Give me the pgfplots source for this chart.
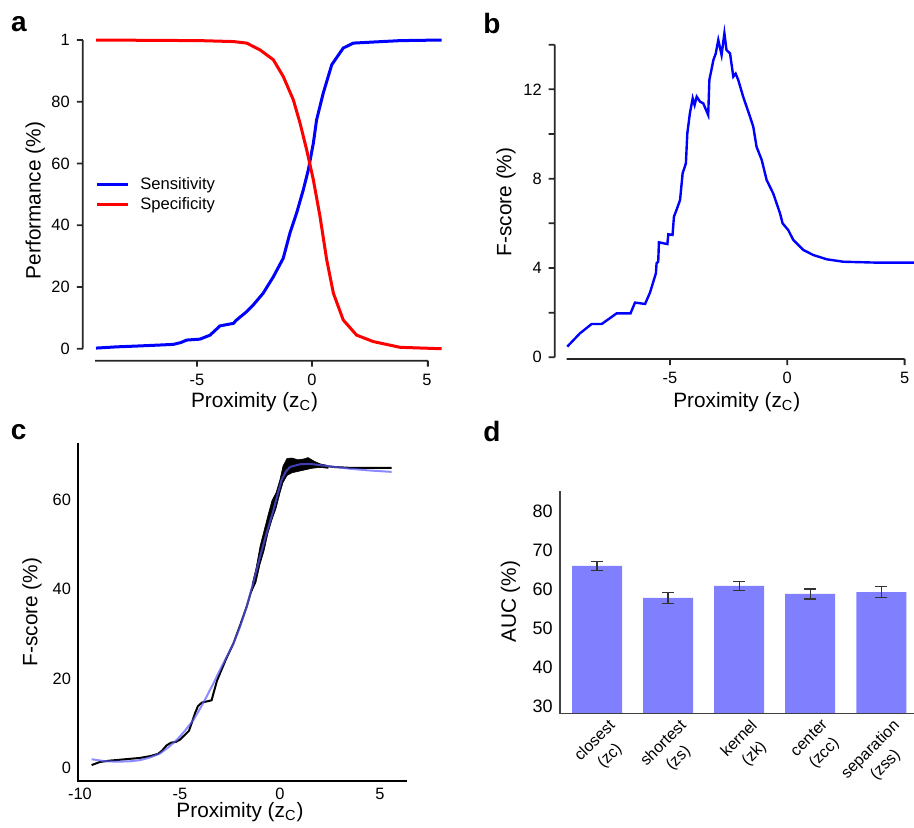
\documentclass[border=0pt]{standalone}
\usepackage{fontspec}
\setmainfont{Liberation Sans}
\usepackage{pgfplots}
\pgfplotsset{compat=1.18}
\usetikzlibrary{calc}

\begin{document}
\begin{tikzpicture}
\path[use as bounding box] (0,0) rectangle (457pt,-413.5pt);

\pgfplotsset{
  every axis/.append style={
    scale only axis, clip=false, anchor=south west,
    /pgf/number format/assume math mode=true,
    tick label style={font=\fontsize{8.2}{9}\selectfont, text=black},
    label style={font=\fontsize{10.4}{12}\selectfont},
    axis line style={draw=none},
  },
}

\node[font=\bfseries\fontsize{14}{16}\selectfont] at (9.5pt,-12pt) {a};
\node[font=\bfseries\fontsize{14}{16}\selectfont] at (246pt,-11.5pt) {b};
\node[font=\bfseries\fontsize{14}{16}\selectfont] at (9.3pt,-216pt) {c};
\node[font=\bfseries\fontsize{14}{16}\selectfont] at (246pt,-215.5pt) {d};

% a: sensitivity / specificity
\begin{axis}[
    name=A,
    at={(47.55pt,-174.35pt)}, width=173.3pt, height=154.35pt,
    xmin=-9.43, xmax=5.64, ymin=0, ymax=100,
    axis x line=bottom, axis y line=left,
    xtick={-5,0,5}, ytick={0,20,...,100}, yticklabels={0,20,40,60,80,1},
    tick align=outside, major tick length=3pt, tick style={draw=none},
    xticklabel style={yshift=-6pt}, yticklabel style={xshift=-6.15pt},
    xlabel={Proximity (z\textsubscript{C})}, ylabel={Performance (\%)},
    xlabel style={at={(axis description cs:0.46,-0.173)}, anchor=center},
    ylabel style={at={(axis description cs:-0.173,0.48)}, anchor=center},
    legend style={draw=none, fill=none, inner sep=0pt,
        at={(axis description cs:0.001,0.565)}, anchor=north west,
        font=\fontsize{8.3}{9.5}\selectfont, column sep=4.6pt,
        nodes={inner sep=0.6pt, text height=6.9pt, text depth=2pt},
        cells={anchor=west}},
    legend image code/.code={\draw[#1] (0pt,0pt) -- (15.5pt,0pt);},
]
\addplot[blue, line width=1.5pt] coordinates {
(-9.39,0.2) (-8.5,0.6) (-7.5,0.9) (-6.6,1.2) (-6.03,1.4) (-5.7,2.0) (-5.45,2.8)
(-4.87,3.1) (-4.43,4.4) (-4.0,7.4) (-3.42,8.2) (-3.28,9.3) (-2.84,12.0)
(-2.55,14.2) (-2.12,18.0) (-1.68,23.3) (-1.25,29.3) (-0.96,37.4) (-0.67,43.9)
(-0.38,51.4) (-0.16,57.9) (0.06,66.6) (0.2,74.1) (0.49,82.8) (0.86,92.0)
(1.36,97.4) (1.8,99.0) (2.8,99.4) (3.83,99.8) (5.64,100)
};
\addlegendentry{Sensitivity}
\addplot[red, line width=1.5pt] coordinates {
(-9.39,100) (-4.87,99.8) (-3.42,99.5) (-2.84,99.0) (-2.26,96.8) (-1.68,93.6)
(-1.25,88.2) (-0.81,80.6) (-0.52,73.1) (-0.23,64.4) (0.06,54.7) (0.35,42.8)
(0.64,28.8) (0.93,18.0) (1.36,9.3) (1.94,4.4) (2.67,2.3) (3.83,0.45) (5.64,0)
};
\addlegendentry{Specificity}
\end{axis}
% detached axis lines of a, with outward ticks, as one path
\coordinate (a0) at ($(A.south west)+(0,-6pt)$);
\coordinate (a1) at ($(A.south west)!0.9602!(A.south east)+(0,-6pt)$);
\coordinate (a2) at ($(A.south west)+(-6.15pt,0)$);
\coordinate (a3) at ($(A.north west)+(-6.15pt,0)$);
\draw[draw=black!85, line width=0.9pt]
  (a0) -- (a1) (a2) -- (a3)
  ($(a0)!0.3062!(a1)$) -- ++(0,-3pt)
  ($(a0)!0.6517!(a1)$) -- ++(0,-3pt)
  (a1) -- ++(0,-3pt)
  (a2) -- ++(-3pt,0)
  ($(a2)!0.2!(a3)$) -- ++(-3pt,0)
  ($(a2)!0.4!(a3)$) -- ++(-3pt,0)
  ($(a2)!0.6!(a3)$) -- ++(-3pt,0)
  ($(a2)!0.8!(a3)$) -- ++(-3pt,0)
  (a3) -- ++(-3pt,0);

% b: F-score
\begin{axis}[
    name=B,
    at={(283.35pt,-178.65pt)}, width=173.65pt, height=161.9pt,
    xmin=-9.4, xmax=5.4, ymin=0, ymax=14.5,
    axis x line=bottom, axis y line=left,
    xtick={-5,0,5}, ytick={0,2,...,14}, yticklabels={0,,4,,8,,12,},
    tick align=outside, major tick length=3pt, tick style={draw=none},
    xticklabel style={yshift=-0.85pt}, yticklabel style={xshift=-6pt},
    xlabel={Proximity (z\textsubscript{C})}, ylabel={F-score (\%)},
    xlabel style={at={(axis description cs:0.49,-0.138)}, anchor=center},
    ylabel style={at={(axis description cs:-0.175,0.48)}, anchor=center},
]
\addplot[blue, line width=1.2pt] coordinates {
(-9.375,0.48) (-8.84,1.07) (-8.34,1.49) (-7.91,1.49) (-7.27,1.97) (-6.68,1.97)
(-6.49,2.45) (-6.06,2.39) (-5.85,2.90) (-5.60,3.76) (-5.57,4.21) (-5.50,4.28)
(-5.47,5.15) (-5.11,5.07) (-5.07,5.51) (-4.89,5.48) (-4.83,6.30) (-4.72,6.6)
(-4.57,7.04) (-4.46,8.24) (-4.32,8.69) (-4.26,10.03) (-4.15,10.93) (-4.03,11.6)
(-3.95,11.3) (-3.86,11.67) (-3.72,11.45) (-3.58,11.37) (-3.37,10.85) (-3.32,12.42)
(-3.15,13.31) (-3.05,13.6) (-2.94,14.21) (-2.80,13.54) (-2.68,14.51) (-2.59,13.76)
(-2.44,13.61) (-2.30,12.57) (-2.2,12.7) (-2.09,12.42) (-1.88,11.67) (-1.59,10.78)
(-1.45,10.33) (-1.31,9.43) (-1.09,8.84) (-0.88,7.94) (-0.60,7.34) (-0.31,6.45)
(-0.20,6.00) (0.04,5.70) (0.26,5.25) (0.68,4.81) (1.11,4.58) (1.68,4.39)
(2.39,4.28) (3.81,4.24) (5.40,4.24)
};
\end{axis}
% detached axis lines of b, with outward ticks, as one path
\coordinate (b0) at ($(B.south west)+(0,-0.85pt)$);
\coordinate (b1) at ($(B.south west)!0.9730!(B.south east)+(0,-0.85pt)$);
\coordinate (b2) at ($(B.south west)+(-6pt,0)$);
\coordinate (b3) at ($(B.south west)!0.9655!(B.north west)+(-6pt,0)$);
\draw[draw=black!85, line width=0.9pt]
  (b0) -- (b1) (b2) -- (b3)
  ($(b0)!0.3056!(b1)$) -- ++(0,-3pt)
  ($(b0)!0.6528!(b1)$) -- ++(0,-3pt)
  (b1) -- ++(0,-3pt)
  (b2) -- ++(-3pt,0)
  ($(b2)!0.142857!(b3)$) -- ++(-3pt,0)
  ($(b2)!0.285714!(b3)$) -- ++(-3pt,0)
  ($(b2)!0.428571!(b3)$) -- ++(-3pt,0)
  ($(b2)!0.571429!(b3)$) -- ++(-3pt,0)
  ($(b2)!0.714286!(b3)$) -- ++(-3pt,0)
  ($(b2)!0.857143!(b3)$) -- ++(-3pt,0)
  (b3) -- ++(-3pt,0);

% c: F-score, black with smoothed fit
\begin{axis}[
    name=C,
    at={(39pt,-390.35pt)}, width=164.3pt, height=168.95pt,
    xmin=-10.1, xmax=6.33, ymin=-2.9, ymax=72.7,
    axis x line=bottom, axis y line=left,
    xtick={-10,-5,0,5}, ytick={0,20,40,60},
    major tick length=0pt, tick style={draw=none},
    xlabel={Proximity (z\textsubscript{C})}, ylabel={F-score (\%)},
    xlabel style={at={(axis description cs:0.493,-0.093)}, anchor=center},
    ylabel style={at={(axis description cs:-0.14,0.499)}, anchor=center},
]
\addplot[black, fill=black, line width=0.3pt] coordinates {
(-1.4,41) (-1.2,44.5) (-1.0,49.5) (-0.8,53) (-0.6,56.5) (-0.4,59.8) (-0.2,61.5)
(0.0,64.5) (0.15,67.5) (0.35,69.2) (0.6,69.3) (0.9,68.9) (1.2,69.1) (1.4,69.4)
(1.7,68.6) (2.0,68.0) (2.4,67.6)
(2.4,67.0) (2.0,67.2) (1.6,67.0) (1.2,66.6) (0.9,66.3) (0.6,66.0) (0.35,65.4)
(0.15,63.8) (0.0,61.5) (-0.2,58.0) (-0.4,55.5) (-0.6,52.5) (-0.8,48.5)
(-1.0,45.5) (-1.2,41.5) (-1.4,39.5)
};
\addplot[black, line width=1pt] coordinates {
(-9.42,0.6) (-9.0,1.3) (-8.5,1.6) (-8.0,1.8) (-7.5,2.0) (-7.0,2.2) (-6.5,2.6)
(-6.1,3.1) (-5.9,3.8) (-5.67,5.0) (-5.45,5.6) (-5.2,5.8) (-5.0,6.3) (-4.75,7.4)
(-4.55,8.3) (-4.4,10.2) (-4.25,12.2) (-4.1,13.8) (-3.9,14.6) (-3.6,14.9)
(-3.42,15.1) (-3.33,16.6) (-3.15,19.5) (-3.0,21.1) (-2.7,24.3) (-2.33,27.8)
(-2.0,31.8) (-1.67,36.0) (-1.33,41.2) (-1.0,47.9) (-0.67,53.9) (-0.33,58.4)
(0.0,62.9) (0.25,66.6) (0.5,68.1) (1.0,68.4) (1.33,68.8) (1.6,68.4) (2.0,67.7)
(2.67,67.3) (3.5,67.1) (4.33,67.1) (5.58,67.1)
};
\addplot[color={rgb,255:red,90;green,90;blue,255}, opacity=0.7, line width=1pt] coordinates {
(-9.42,1.9) (-8.8,1.5) (-8.17,1.35) (-7.5,1.45) (-7.0,1.7) (-6.5,2.3) (-6.0,3.2)
(-5.6,4.5) (-5.17,6.2) (-4.75,8.3) (-4.33,10.7) (-4.0,13.2) (-3.67,15.9)
(-3.33,18.9) (-3.0,21.9) (-2.67,24.8) (-2.33,27.8) (-2.0,31.5) (-1.67,36.0)
(-1.33,41.5) (-1.0,47.2) (-0.67,52.5) (-0.33,57.6) (-0.1,61.5) (0.08,64.4)
(0.3,66.3) (0.5,67.3) (1.0,67.9) (1.5,68.0) (2.0,67.7) (2.75,67.3) (3.5,66.9)
(4.5,66.5) (5.58,66.2)
};
\end{axis}
\draw[black, line width=0.8pt] (C.north west) -- (C.south west) -- (C.south east);

% d: AUC bars
\begin{axis}[
    name=D,
    at={(279.85pt,-356.65pt)}, width=177.15pt, height=111.15pt,
    clip=true,
    xmin=-0.525, xmax=4.46, ymin=28.3, ymax=85.3,
    axis x line=bottom, axis y line=left,
    xtick={0,...,4}, ytick={30,40,...,80},
    xticklabels={{closest\\(zc)},{shortest\\(zs)},{kernel\\(zk)},{center\\(zcc)},{separation\\(zss)}},
    major tick length=0pt, tick style={draw=none},
    yticklabel style={font=\fontsize{9}{10}\selectfont},
    xticklabel style={rotate=45, anchor=north east, align=center,
        font=\fontsize{8}{10.5}\selectfont, xshift=5.5pt, yshift=-2pt},
    ylabel={AUC (\%)},
    ylabel style={at={(axis description cs:-0.139,0.502)}, anchor=center},
]
\addplot[ybar, bar width=25pt, bar shift=0pt, fill={rgb,255:red,128;green,128;blue,255}, draw=none,
    error bars/.cd, y dir=both, y explicit,
    error bar style={draw=black!80, line width=0.6pt},
    error mark options={rotate=90, draw=black!80, line width=0.6pt, mark size=3pt}]
coordinates {
(0,66.1) +- (0,1.15)
(1,57.9) +- (0,1.4)
(2,61.0) +- (0,1.15)
(3,58.9) +- (0,1.3)
(4,59.4) +- (0,1.5)
};
\end{axis}
\draw[black!75, line width=0.8pt] (D.north west) -- (D.south west) -- (D.south east);
\end{tikzpicture}
\end{document}
